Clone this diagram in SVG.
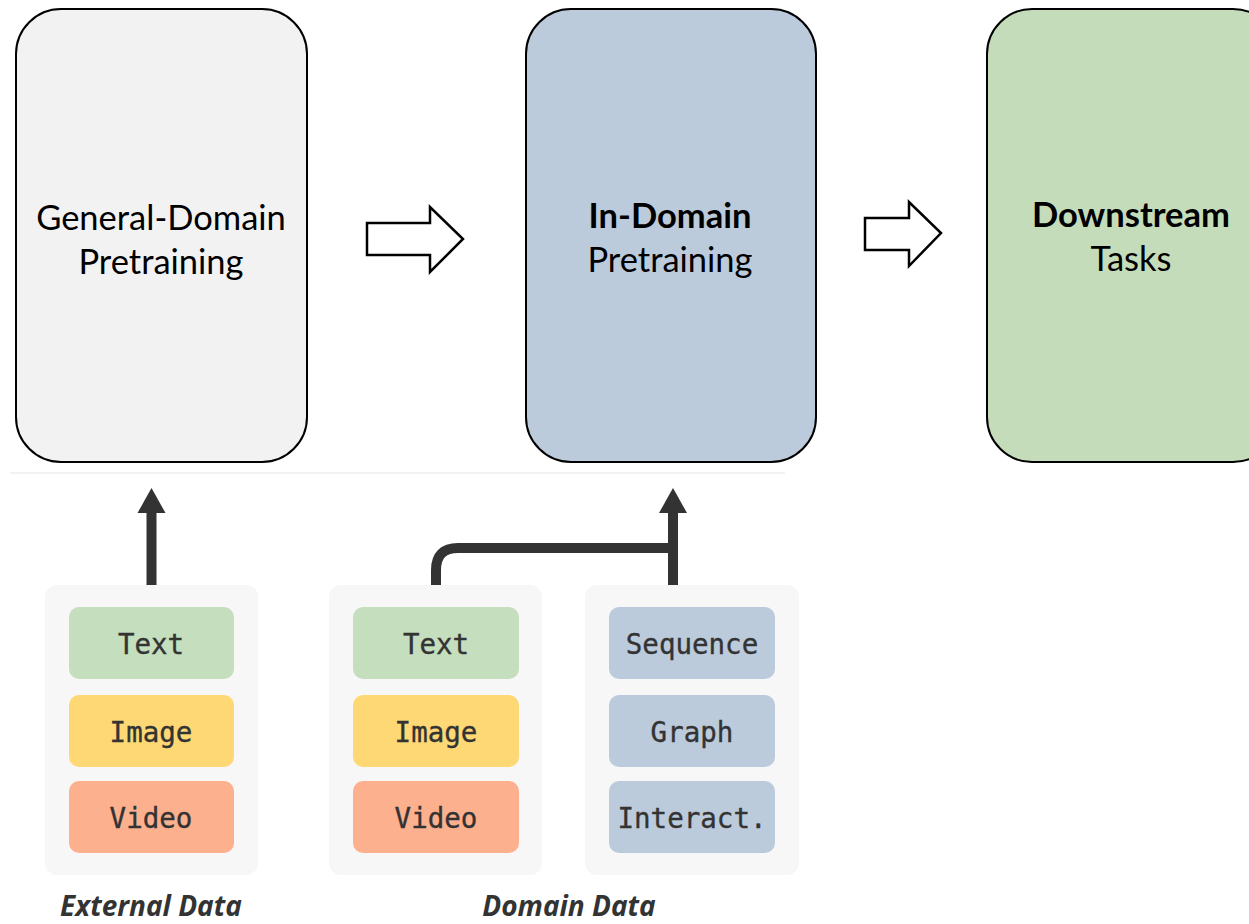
<svg xmlns="http://www.w3.org/2000/svg" width="1249" height="924" viewBox="0 0 1249 924">
<defs>
<style>
.stage{stroke:#000;stroke-width:2}
.big{font-family:Lato,"Open Sans","Liberation Sans",sans-serif;font-size:34.5px;fill:#000;text-anchor:middle}
.b{font-weight:bold}
.block{fill:#fff;stroke:#000;stroke-width:2.5;stroke-linejoin:miter}
.panel{fill:#f7f7f7}
.chip{rx:10;ry:10}
.mono{font-family:"DejaVu Sans Mono","Liberation Mono",monospace;font-size:27.5px;fill:#333;stroke:#333;stroke-width:0.35;text-anchor:middle}
.cap{font-family:"Open Sans","Noto Sans",sans-serif;font-size:28px;font-style:italic;font-weight:bold;fill:#333;text-anchor:middle}
.conn{fill:none;stroke:#333;stroke-width:10}
.head{fill:#333}
</style>
</defs>
<rect width="1249" height="924" fill="#fff"/>
<line x1="10" y1="473" x2="785" y2="473" stroke="#eeeeee" stroke-width="1.5"/>

<g id="general">
<rect class="stage" x="16" y="9" width="291" height="453" rx="45" fill="#f2f2f2"/>
<text class="big" x="161" y="230">General-Domain</text>
<text class="big" x="161" y="274">Pretraining</text>
</g>
<g id="indomain">
<rect class="stage" x="526" y="9" width="290" height="453" rx="45" fill="#bccbdc"/>
<text class="big b" x="670" y="228">In-Domain</text>
<text class="big" x="670" y="272">Pretraining</text>
</g>
<g id="downstream">
<rect class="stage" x="987" y="9" width="291" height="453" rx="45" fill="#c5dcba"/>
<text class="big b" x="1131" y="227">Downstream</text>
<text class="big" x="1131" y="271">Tasks</text>
</g>

<g id="block-arrows">
<polygon class="block" points="367,223 430,223 430,207 463,239 430,272 430,255 367,255"/>
<polygon class="block" points="865,218 909,218 909,202 941,233 909,266 909,250 865,250"/>
</g>

<g id="external">
<rect class="panel" x="45" y="585" width="213" height="290" rx="12"/>
<rect class="chip" x="69" y="607" width="165" height="72" fill="#c5dfbe"/>
<text class="mono" x="151" y="654">Text</text>
<rect class="chip" x="69" y="695" width="165" height="72" fill="#fdd874"/>
<text class="mono" x="151" y="742">Image</text>
<rect class="chip" x="69" y="781" width="165" height="72" fill="#fcb08e"/>
<text class="mono" x="151" y="828">Video</text>
<text class="cap" x="151" y="916">External Data</text>
</g>

<g id="domain-media">
<rect class="panel" x="329" y="585" width="213" height="290" rx="12"/>
<rect class="chip" x="353" y="607" width="166" height="72" fill="#c5dfbe"/>
<text class="mono" x="436" y="654">Text</text>
<rect class="chip" x="353" y="695" width="166" height="72" fill="#fdd874"/>
<text class="mono" x="436" y="742">Image</text>
<rect class="chip" x="353" y="781" width="166" height="72" fill="#fcb08e"/>
<text class="mono" x="436" y="828">Video</text>
</g>
<g id="domain-science">
<rect class="panel" x="585" y="585" width="214" height="290" rx="12"/>
<rect class="chip" x="609" y="607" width="166" height="72" fill="#bccbdc"/>
<text class="mono" x="692" y="654">Sequence</text>
<rect class="chip" x="609" y="695" width="166" height="72" fill="#bccbdc"/>
<text class="mono" x="692" y="742">Graph</text>
<rect class="chip" x="609" y="781" width="166" height="72" fill="#bccbdc"/>
<text class="mono" x="692" y="828">Interact.</text>
</g>
<text class="cap" x="569" y="916">Domain Data</text>

<g id="connectors">
<line class="conn" x1="151.5" y1="585" x2="151.5" y2="510"/>
<polygon class="head" points="137.5,513 151.5,488 165.5,513"/>
<path class="conn" d="M436,585 V570 Q436,548 458,548 H673"/>
<line class="conn" x1="673" y1="585" x2="673" y2="510"/>
<polygon class="head" points="659,513 673,488 687,513"/>
</g>
</svg>
